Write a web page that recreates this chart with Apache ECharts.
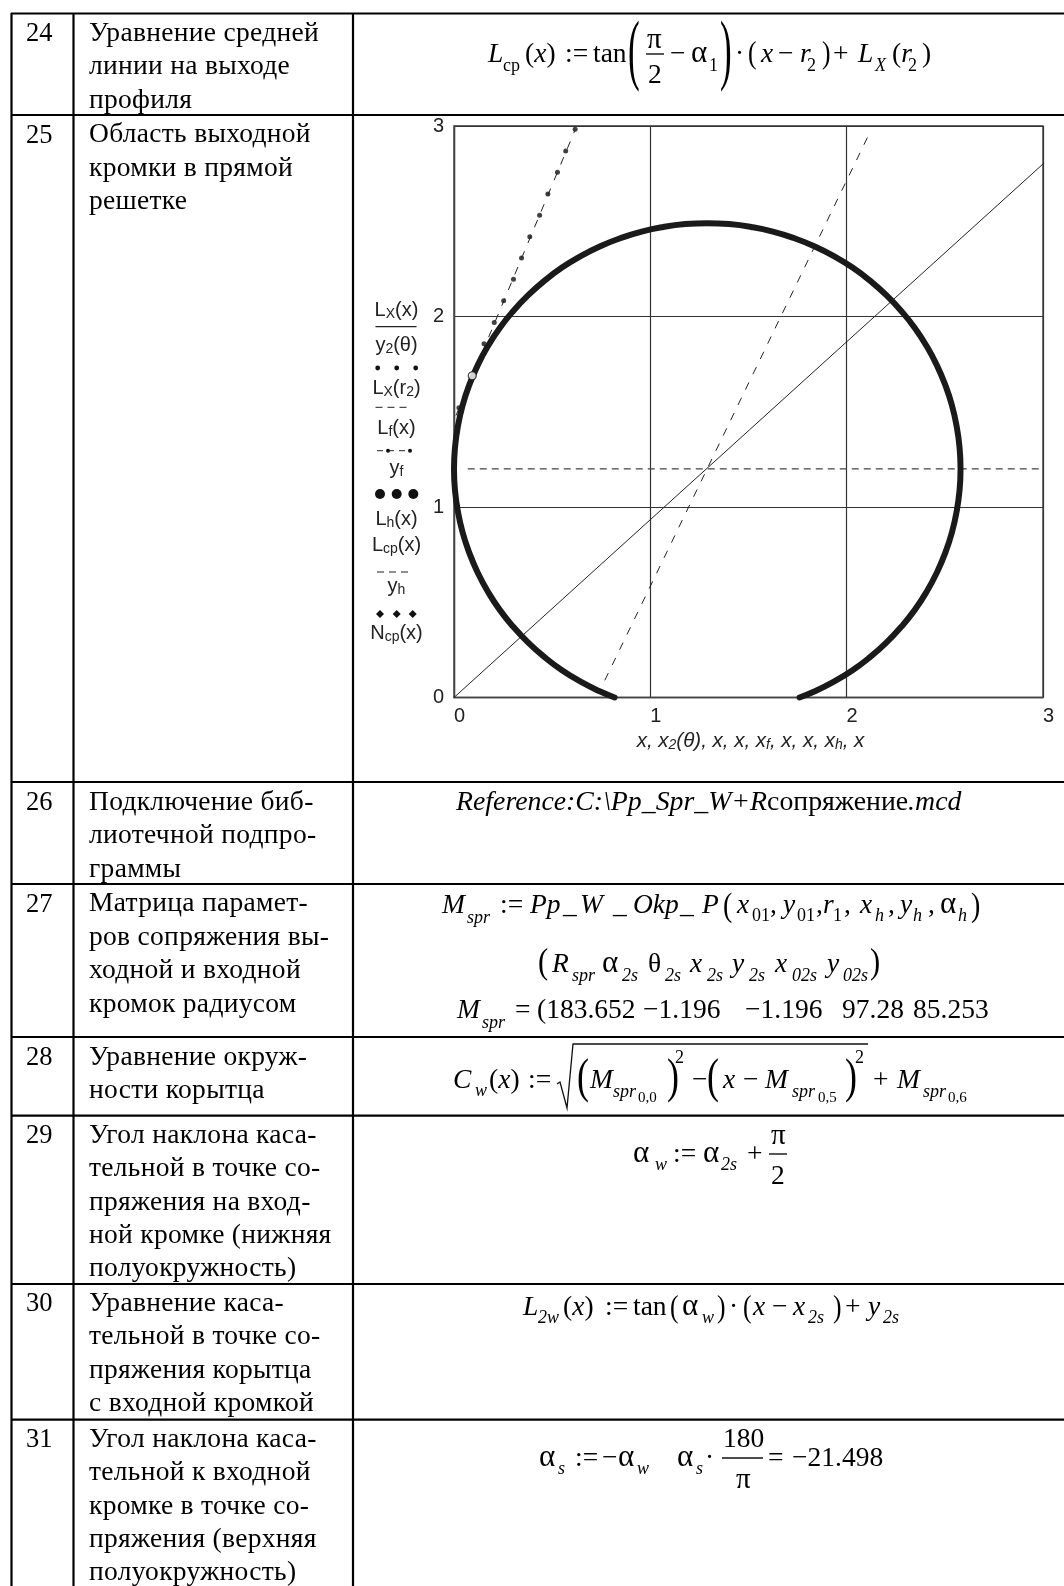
<!DOCTYPE html>
<html>
<head>
<meta charset="utf-8">
<script src="https://cdn.jsdelivr.net/npm/echarts@6/dist/echarts.min.js"></script>
<style>
html,body{margin:0;padding:0;background:#fff;}
#page{position:relative;width:1064px;height:1586px;overflow:hidden;}
#chart{position:absolute;left:0;top:0;width:1064px;height:1586px;}
#texts{position:absolute;left:0;top:0;width:1064px;height:1586px;pointer-events:none;font-family:"Liberation Serif",serif;color:#000;}
.t{position:absolute;white-space:pre;line-height:0;}
.s{font-size:.72em;position:relative;top:.42em;}
</style>
</head>
<body>
<div id="page">
  <div id="chart"></div>
  <div id="texts"></div>
</div>
<script>
// значения
const xTicks = [0, 1, 2, 3]
const yTicks = [0, 1, 2, 3]
const profileArc = [
  [1.76,0],[1.835,0.031],[1.935,0.083],[2.03,0.143],[2.119,0.212],[2.202,0.288],[2.278,0.371],
  [2.347,0.46],[2.407,0.555],[2.459,0.655],[2.502,0.759],[2.536,0.866],[2.56,0.976],[2.575,1.088],
  [2.58,1.2],[2.575,1.312],[2.56,1.424],[2.536,1.534],[2.502,1.641],[2.459,1.745],[2.407,1.845],
  [2.347,1.94],[2.278,2.029],[2.202,2.112],[2.119,2.188],[2.03,2.257],[1.935,2.317],[1.835,2.369],
  [1.731,2.412],[1.624,2.446],[1.514,2.47],[1.402,2.485],[1.29,2.49],[1.178,2.485],[1.066,2.47],
  [0.956,2.446],[0.849,2.412],[0.745,2.369],[0.645,2.317],[0.55,2.257],[0.461,2.188],[0.378,2.112],
  [0.302,2.029],[0.233,1.94],[0.173,1.845],[0.121,1.745],[0.078,1.641],[0.044,1.534],[0.02,1.424],
  [0.005,1.312],[0,1.2],[0.005,1.088],[0.02,0.976],[0.044,0.866],[0.078,0.759],[0.121,0.655],
  [0.173,0.555],[0.233,0.46],[0.302,0.371],[0.378,0.288],[0.461,0.212],[0.55,0.143],[0.645,0.083],
  [0.745,0.031],[0.818,0]
]
const middleLine = [[0,0],[3.01,2.81]]
const frontLine = [[0.768,0.09],[2.12,2.97]]
const tangentLine = [[0.01,1.48],[0.617,2.98]]
const levelLine = [[0.07,1.2],[3,1.2]]
const tangentDots = [
  [0.617,2.983],[0.569,2.869],[0.527,2.757],[0.478,2.643],[0.436,2.531],[0.386,2.419],[0.344,2.307],
  [0.303,2.195],[0.253,2.083],[0.205,1.969],[0.153,1.857],[0.025,1.521]
]
const contactPoint = [[0.093,1.689]]

// текст таблицы
const rowNumbers = ['24','25','26','27','28','29','30','31']
const rowBaselines = [41,142.5,810,911.7,1065,1143,1311,1447]
const rowLabels = [
  ['Уравнение средней','линии на выходе','профиля'],
  ['Область выходной','кромки в прямой','решетке'],
  ['Подключение биб-','лиотечной подпро-','граммы'],
  ['Матрица парамет-','ров сопряжения вы-','ходной и входной','кромок радиусом'],
  ['Уравнение окруж-','ности корытца'],
  ['Угол наклона каса-','тельной в точке со-','пряжения на вход-','ной кромке (нижняя','полуокружность)'],
  ['Уравнение каса-','тельной в точке со-','пряжения корытца','с входной кромкой'],
  ['Угол наклона каса-','тельной к входной','кромке в точке со-','пряжения (верхняя','полуокружность)']
]
const rowLines = [13.5,115,782,884,1037,1115.7,1284,1419.7]
const colLines = [11.5,73.5,353]

const legendLabels = [
  {text:'{a|L}{s|X}{a|(x)}', y:310},
  {text:'{a|y}{s|2}{a|(θ)}', y:345},
  {text:'{a|L}{s|X}{a|(r}{s|2}{a|)}', y:388.5},
  {text:'{a|L}{s|f}{a|(x)}', y:428.5},
  {text:'{a|y}{s|f}', y:468.5},
  {text:'{a|L}{s|h}{a|(x)}', y:519.5},
  {text:'{a|L}{s|cp}{a|(x)}', y:545},
  {text:'{a|y}{s|h}', y:586},
  {text:'{a|N}{s|cp}{a|(x)}', y:633.5}
]

const F = 27.5 // основной размер формул
const SUB = 18 // индекс
const it = s => `<i>${s}</i>`
const sub2 = s => `<span class="s">${s}</span>`

// формулы: x, базовая линия, html, размер, transform
const formulas = [
  // 24
  [488,62,it('L'),F],[503,71,'cp',SUB],[525,62,`(${it('x')})`,F],[565,62,':=',F],[593,62,'tan',F],
  [628,75,'(',78,'scaleX(.45)'],[647,48,'π',29],[648,83,'2',F],[670,62,'−',F],[691,62,'α',31],[709,71,'1',SUB],
  [720,75,')',78,'scaleX(.45)'],[735,62,'·',F],[748,63,'(',32,'scaleX(.8)'],[761,62,it('x'),F],[778,62,'−',F],
  [800,62,it('r'),F],[807,71,'2',SUB],[822,63,')',32,'scaleX(.8)'],[833,62,'+',F],[858,62,it('L'),F],
  [875,71,it('X'),SUB],[892,62,`(${it('r')}`,F],[908,71,'2',SUB],[922,62,')',F],
  // 26
  [456,810,`${it('Reference:C:\\Pp_Spr_W+R')}сопряжение${it('.mcd')}`,F+0.3],
  // 27
  [442,913,it('M'),F],[467,923,it('spr'),SUB],[500,913,':=',F],[530,913,it('Pp'),F],[563,913,it('_'),F],
  [580,913,it('W'),F],[613,913,it('_'),F],[633,913,it('Okp'),F],[680,913,it('_'),F],[702,913,it('P'),F],
  [723,916,'(',33,'scaleX(.85)'],[737,913,it('x'),F],[752,921,'01',SUB],[770,913,',',F],[783,913,it('y'),F],
  [797,921,'01',SUB],[816,913,',',F],[823,913,it('r'),F],[833,921,'1',SUB],[844,913,',',F],[860,913,it('x'),F],
  [875,921,it('h'),SUB],[888,913,',',F],[900,913,it('y'),F],[913,921,it('h'),SUB],[928,913,',',F],
  [940,913,'α',31],[958,921,it('h'),SUB],[971,916,')',33,'scaleX(.85)'],
  [538,973,'(',36,'scaleX(.85)'],[552,972,it('R'),F],[572,981,it('spr'),SUB],[602,972,'α',31],[622,981,it('2s'),SUB],
  [648,972,'θ',F],[665,981,it('2s'),SUB],[690,972,it('x'),F],[707,981,it('2s'),SUB],[732,972,it('y'),F],
  [749,981,it('2s'),SUB],[775,972,it('x'),F],[792,981,it('02s'),SUB],[827,972,it('y'),F],[843,981,it('02s'),SUB],
  [870,973,')',36,'scaleX(.85)'],
  [457,1018,it('M'),F],[482,1028,it('spr'),SUB],[515,1018,'=',F],[537,1018,'(183.652',F],[643,1018,'−1.196',F],
  [745,1018,'−1.196',F],[842,1018,'97.28',F],[913,1018,'85.253',F],
  // 28
  [453,1088,it('C'),F],[475,1096,it('w'),SUB],[489,1088,`(${it('x')})`,F],[528,1088,':=',F],
  [577,1092,'(',48,'scaleX(.75)'],[590,1088,it('M'),F],[613,1097,it('spr'),SUB],[638,1102,'0,0',15],
  [667,1092,')',48,'scaleX(.75)'],[675,1063,'2',SUB],[692,1088,'−',F],[707,1092,'(',48,'scaleX(.75)'],
  [723,1088,it('x'),F],[743,1088,'−',F],[765,1088,it('M'),F],[792,1097,it('spr'),SUB],[818,1102,'0,5',15],
  [845,1092,')',48,'scaleX(.75)'],[855,1063,'2',SUB],[873,1088,'+',F],[897,1088,it('M'),F],[923,1097,it('spr'),SUB],
  [948,1102,'0,6',15],
  // 29
  [633,1162,'α',31],[655,1170,it('w'),SUB],[673,1162,':=',F],[703,1162,'α',31],[721,1170,it('2s'),SUB],
  [747,1162,'+',F],[771,1144,'π',29],[771,1184,'2',F],
  // 30
  [523,1315,it('L'),F],[538,1323,it('2w'),SUB],[563,1315,`(${it('x')})`,F],[605,1315,':=',F],[633,1315,'tan',F],
  [670,1317,'(',32,'scaleX(.8)'],[682,1315,'α',31],[702,1323,it('w'),SUB],[717,1317,')',32,'scaleX(.8)'],
  [729,1315,'·',F],[743,1317,'(',32,'scaleX(.8)'],[753,1315,it('x'),F],[772,1315,'−',F],[793,1315,it('x'),F],
  [808,1323,it('2s'),SUB],[833,1317,')',32,'scaleX(.8)'],[845,1315,'+',F],[868,1315,it('y'),F],[883,1323,it('2s'),SUB],
  // 31
  [539,1466,'α',31],[558,1474,it('s'),SUB],[575,1466,':=',F],[602,1466,'−',F],[618,1466,'α',31],[637,1474,it('w'),SUB],
  [677,1466,'α',31],[696,1474,it('s'),SUB],[705,1466,'·',F],[723,1447,'180',F],[736,1488,'π',29],
  [768,1466,'=',F],[792,1466,'−21.498',F]
]
const fractionBars = [[646,664,54],[769,787,1154],[722,763,1458]]

function addText(x,base,html,size,transform,spacing){
  const el = document.createElement('div')
  el.className = 't'
  el.style.left = x+'px'
  el.style.top = (base-0.3375*size)+'px'
  el.style.fontSize = size+'px'
  if(transform){
    el.style.transform = transform
    el.style.transformOrigin = 'left center'
  }
  if(spacing) el.style.letterSpacing = spacing+'px'
  el.innerHTML = html
  document.getElementById('texts').appendChild(el)
}

function drawTexts(){
  rowNumbers.forEach((n,i)=>{
    addText(26,rowBaselines[i],n,26.5)
    rowLabels[i].forEach((line,k)=>{
      addText(89,rowBaselines[i]+k*33.4,line,27.5,null,0.3)
    })
  })
  formulas.forEach(f=>addText(f[0],f[1],f[2],f[3],f[4]))
}

function lineEl(x1,y1,x2,y2,w,dash,color){
  return {
    type:'line',silent:true,
    shape:{x1,y1,x2,y2},
    style:{stroke:color||'#000',lineWidth:w,lineDash:dash||null}
  }
}

function getGraphic(){
  const g = []
  // таблица
  rowLines.forEach(y=>g.push(lineEl(11,y,1064,y,2.2)))
  colLines.forEach(x=>g.push(lineEl(x,13,x,1586,2.2)))
  // дроби и корень
  fractionBars.forEach(b=>g.push(lineEl(b[0],b[2],b[1],b[2],1.4,null,'#111')))
  g.push({type:'polyline',silent:true,
    shape:{points:[[557,1084],[560,1082],[567,1108],[573,1044],[868,1044]]},
    style:{stroke:'#111',lineWidth:1.3,fill:null}})
  // подписи легенды
  legendLabels.forEach(l=>{
    g.push({type:'text',silent:true,x:396.5,y:l.y,
      style:{text:l.text,align:'center',verticalAlign:'middle',fill:'#222',
        rich:{
          a:{fontFamily:'Liberation Sans',fontSize:20,lineHeight:22,fill:'#222'},
          s:{fontFamily:'Liberation Sans',fontSize:14,lineHeight:14,verticalAlign:'bottom',fill:'#222'}
        }}})
  })
  // образцы линий в легенде
  g.push(lineEl(375.5,326.7,416.5,326.7,1.3,null,'#222'))
  g.push(lineEl(375.5,407.3,411,407.3,1,[7,5],'#222'))
  g.push(lineEl(377,450.7,408,450.7,1,[6,5],'#222'))
  g.push(lineEl(377,572,411,572,1,[7,5],'#222'))
  ;[377.7,396.7,415.7].forEach(x=>g.push({type:'circle',silent:true,shape:{cx:x,cy:368,r:2.4},style:{fill:'#111'}}))
  ;[388,410].forEach(x=>g.push({type:'circle',silent:true,shape:{cx:x,cy:450.7,r:2},style:{fill:'#111'}}))
  ;[380,396.7,413.3].forEach(x=>g.push({type:'circle',silent:true,shape:{cx:x,cy:494,r:5},style:{fill:'#111'}}))
  ;[380,396.7,412.7].forEach(x=>g.push({type:'polygon',silent:true,
    shape:{points:[[x-4,614],[x,610],[x+4,614],[x,618]]},style:{fill:'#111'}}))
  return g
}

function getOption(){
  const axisBase = {
    type:'value',min:0,max:3,interval:1,
    axisLine:{show:true,lineStyle:{color:'#444',width:1.4}},
    axisTick:{show:false},
    splitLine:{show:true,lineStyle:{color:'#333',width:1.2}}
  }
  return {
    animation:false,
    textStyle:{fontFamily:'Liberation Sans'},
    grid:{left:454,top:126,width:589,height:571.5,show:true,borderColor:'#333',borderWidth:1.3,backgroundColor:'transparent'},
    xAxis:{
      ...axisBase,
      axisLabel:{
        color:'#222',fontSize:20,margin:9,padding:[0,0,0,11],
        customValues:xTicks
      },
      name:'{i|x, x}{s|2}{i|(θ), x, x, x}{s|f}{i|, x, x, x}{s|h}{i|, x}',
      nameLocation:'middle',nameGap:33,
      nameTextStyle:{
        padding:[0,0,0,4],
        rich:{
          i:{fontFamily:'Liberation Sans',fontStyle:'italic',fontSize:20.5,lineHeight:22,color:'#222'},
          s:{fontFamily:'Liberation Sans',fontStyle:'italic',fontSize:14,lineHeight:14,verticalAlign:'bottom',color:'#222'}
        }
      }
    },
    yAxis:{
      ...axisBase,
      axisLabel:{color:'#222',fontSize:20,margin:10,padding:[2,0,0,0],customValues:yTicks}
    },
    series:[
      {type:'line',data:middleLine,showSymbol:false,clip:false,lineStyle:{color:'#222',width:1}},
      {type:'line',data:frontLine,showSymbol:false,clip:false,lineStyle:{color:'#222',width:1,type:[8,9]}},
      {type:'line',data:tangentLine,showSymbol:false,clip:false,lineStyle:{color:'#222',width:1,type:[8,9]}},
      {type:'line',data:levelLine,showSymbol:false,clip:false,lineStyle:{color:'#444',width:1.1,type:[7,5]}},
      {type:'scatter',data:tangentDots,symbolSize:5,itemStyle:{color:'#111'},clip:false},
      {type:'line',data:profileArc,smooth:true,showSymbol:false,clip:false,z:5,
        lineStyle:{color:'#1a1a1a',width:6,cap:'round'}},
      {type:'scatter',data:contactPoint,symbolSize:8,clip:false,z:6,
        itemStyle:{color:'#fff',borderColor:'#111',borderWidth:1.2}}
    ],
    graphic:getGraphic()
  }
}

drawTexts()
const chart = echarts.init(document.getElementById('chart'),null,{renderer:'canvas'})
chart.setOption(getOption())
</script>
</body>
</html>
